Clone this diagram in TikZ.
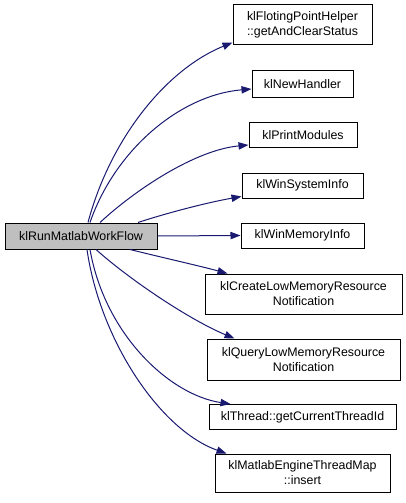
\documentclass[tikz,border=0pt]{standalone}
\usepackage{fontspec}
\setmainfont{Liberation Sans}
\usetikzlibrary{arrows.meta,calc}
\definecolor{edgeblue}{HTML}{191970}
\definecolor{maingray}{HTML}{BFBFBF}
\begin{document}
\begin{tikzpicture}[x=0.75pt,y=-0.75pt,
  box/.style={draw=black,line width=0.75pt,fill=white,inner sep=0pt,align=center,
    font=\fontsize{9.3}{11.25}\selectfont},
  link/.style={draw=edgeblue,line width=0.75pt,-{Triangle[length=7.5pt,width=5.5pt]}}]
\useasboundingbox (0,0) rectangle (405,503);
\node[box,fill=maingray,minimum width=114pt,minimum height=19.5pt] (main) at (81,236) {klRunMatlabWorkFlow};
\node[box,minimum width=104.25pt,minimum height=30pt] (b1) at (302.5,25) {klFlotingPointHelper\\::getAndClearStatus};
\node[box,minimum width=75.75pt,minimum height=19.5pt] (b2) at (302.5,84) {klNewHandler};
\node[box,minimum width=81pt,minimum height=18.75pt] (b3) at (303,135) {klPrintModules};
\node[box,minimum width=90.75pt,minimum height=18.75pt] (b4) at (302.5,185.5) {klWinSystemInfo};
\node[box,minimum width=92.25pt,minimum height=18.75pt] (b5) at (302.5,235.5) {klWinMemoryInfo};
\node[box,minimum width=147.75pt,minimum height=30pt] (b6) at (303.5,294) {klCreateLowMemoryResource\\Notification};
\node[box,minimum width=144.75pt,minimum height=30.75pt] (b7) at (303.5,359.5) {klQueryLowMemoryResource\\Notification};
\node[box,minimum width=140.25pt,minimum height=18.75pt] (b8) at (302.5,417) {klThread::getCurrentThreadId};
\node[box,minimum width=131.25pt,minimum height=28.5pt] (b9) at (302.5,473) {klMatlabEngineThreadMap\\::insert};

\draw[link] ($(main.north)+(7,0)$) .. controls (110,140) and (165,70) .. ($(b1.south west)+(0,-3)$);
\draw[link] ($(main.north)+(9,0)$) .. controls (115,150) and (180,95) .. ($(b2.west)+(0,5)$);
\draw[link] ($(main.north)+(19,0)$) .. controls (135,190) and (195,150) .. ($(b3.south west)+(0,-3)$);
\draw[link] ($(main.north)+(57,0)$) .. controls (170,212) and (210,202) .. ($(b4.south west)+(0,-2)$);
\draw[link] (main.east) -- (b5.west);
\draw[link] ($(main.south)+(49,0)$) .. controls (160,257) and (200,266) .. ($(b6.north west)+(23,0)$);
\draw[link] ($(main.south)+(15,0)$) .. controls (130,280) and (190,320) .. ($(b7.north west)+(28,0)$);
\draw[link] ($(main.south)+(9,0)$) .. controls (105,335) and (170,395) .. ($(b8.north west)+(22,0)$);
\draw[link] ($(main.south)+(6,0)$) .. controls (100,340) and (160,430) .. ($(b9.north west)+(12,0)$);
\end{tikzpicture}
\end{document}
